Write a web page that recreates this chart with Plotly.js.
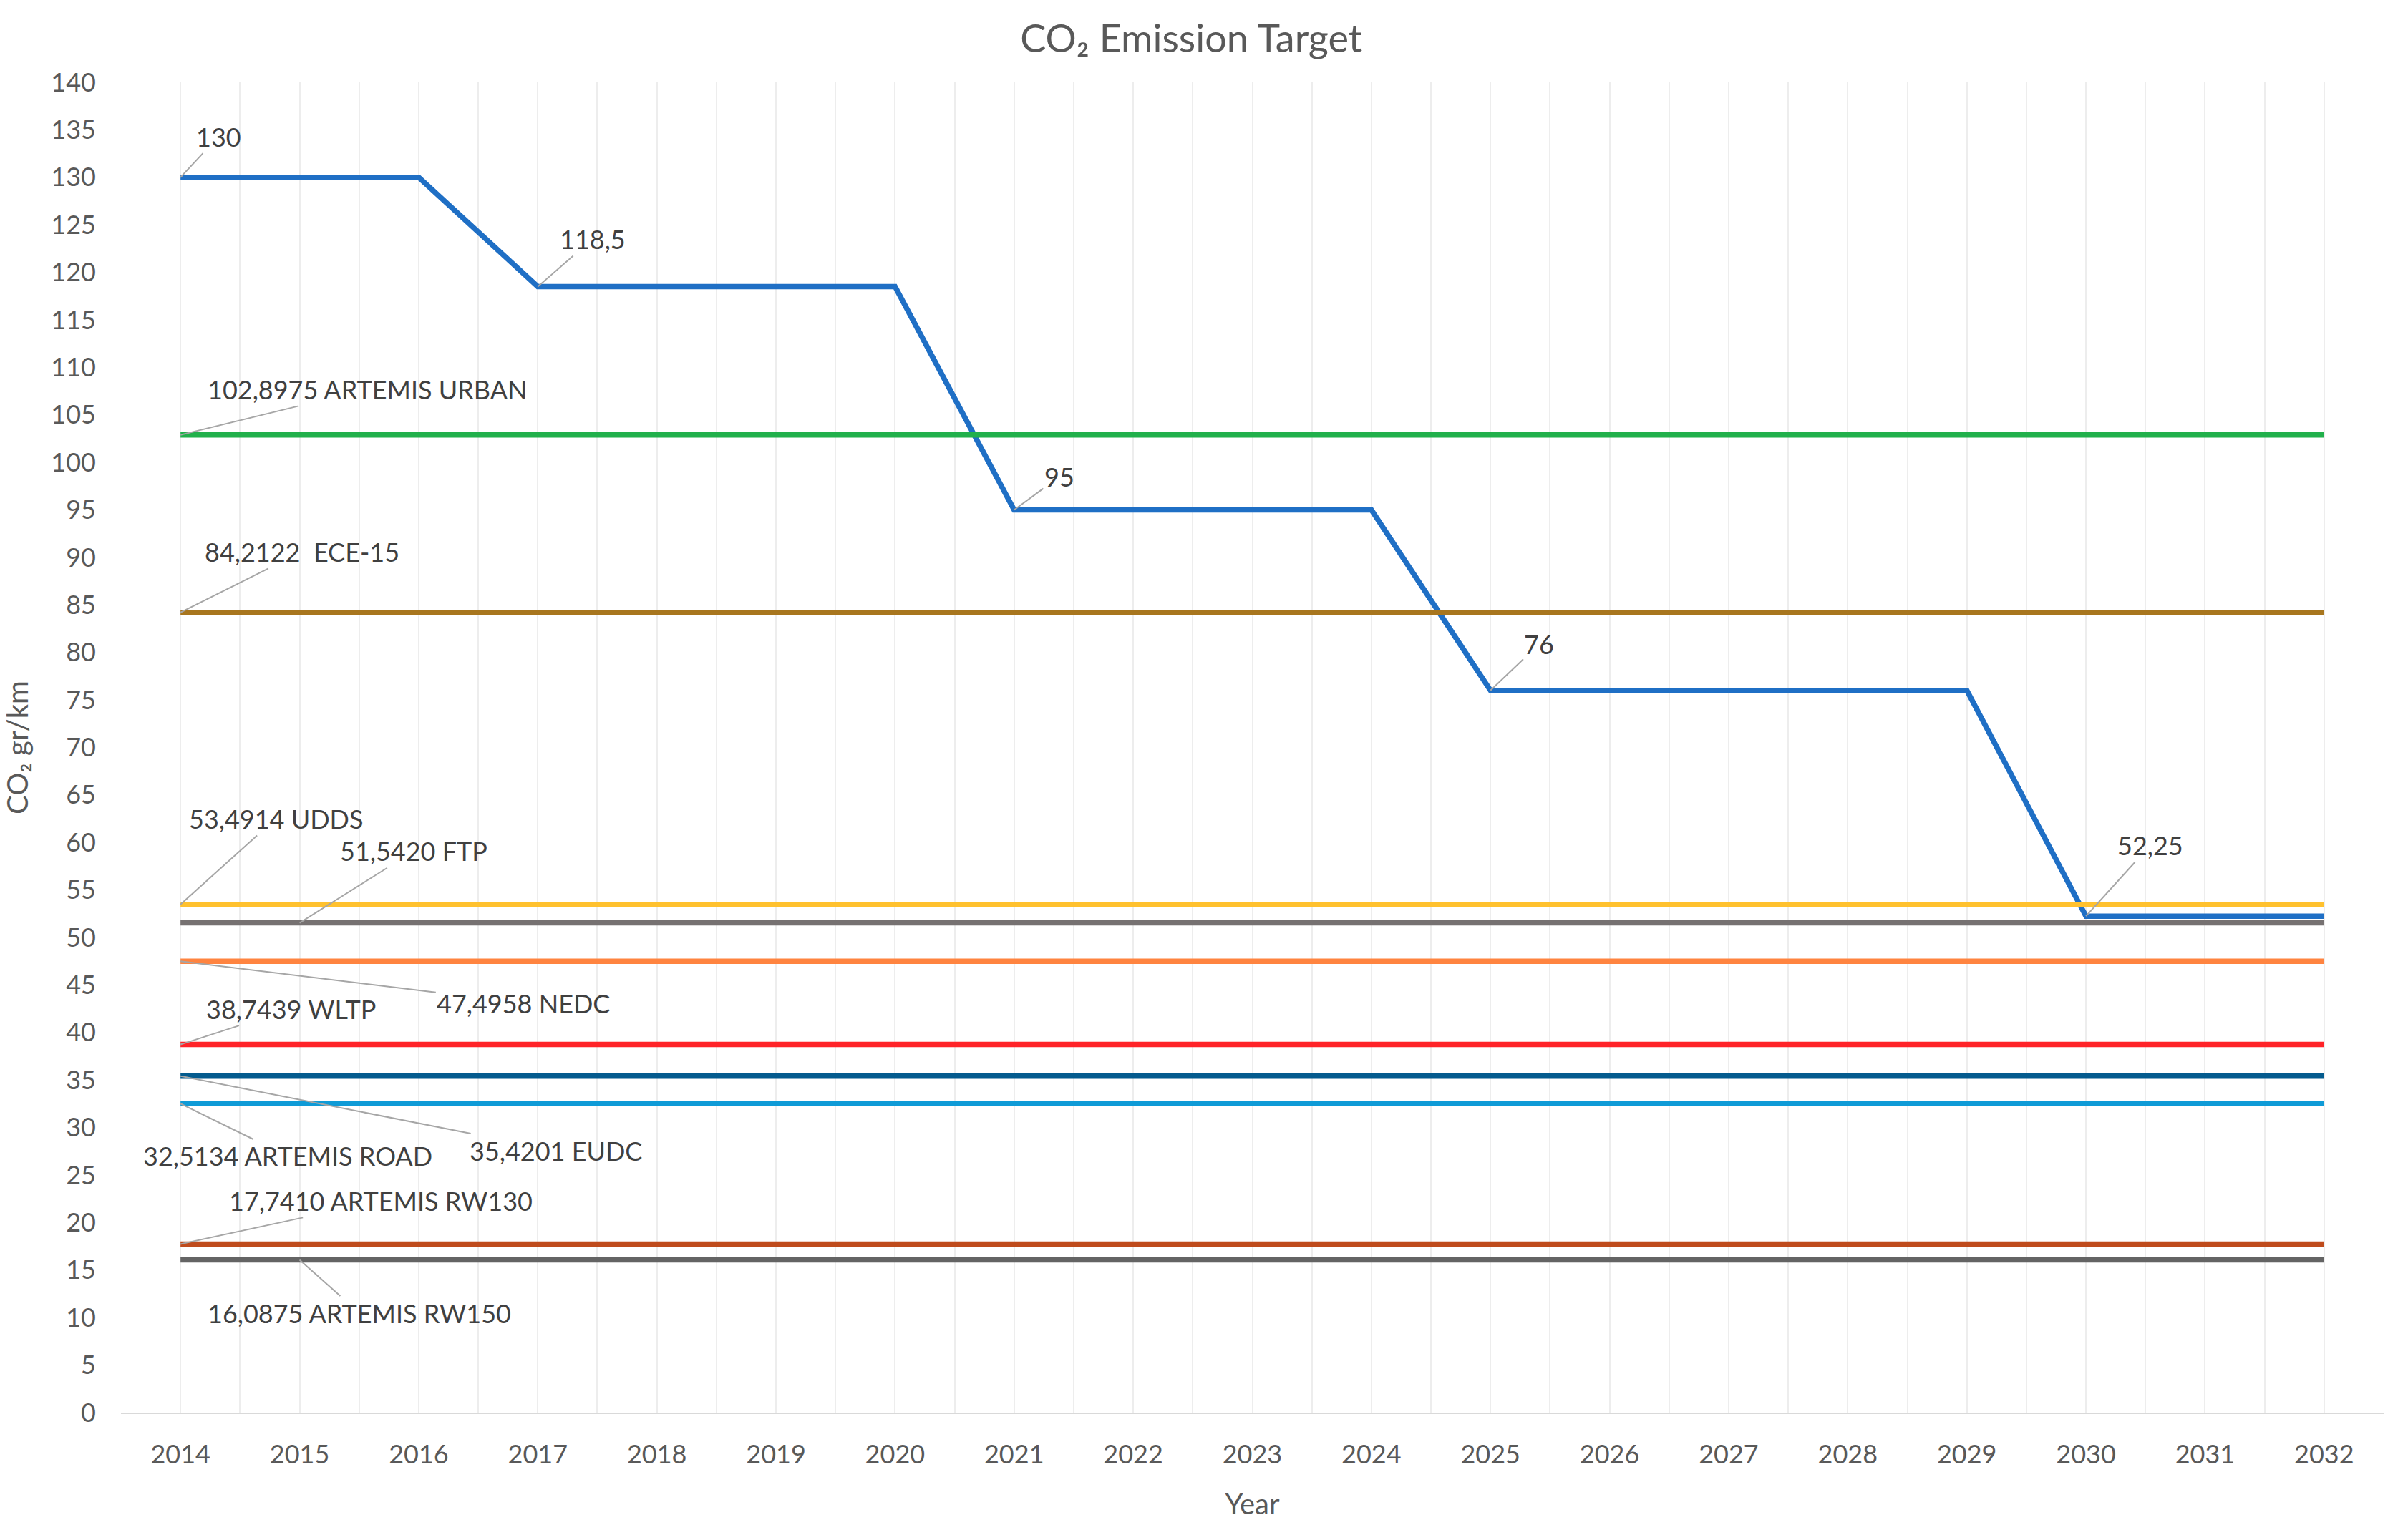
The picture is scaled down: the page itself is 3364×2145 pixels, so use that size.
<!DOCTYPE html>
<html>
<head>
<meta charset="utf-8">
<title>CO2 Emission Target</title>
<script src="https://cdn.plot.ly/plotly-3.0.1.min.js"></script>
<style>
  html, body { margin: 0; padding: 0; background: #fff; }
  #chart { width: 3364px; height: 2145px; }
</style>
</head>
<body>
<div id="chart"></div>
<script>
// Anos do eixo X
const years = [2014, 2015, 2016, 2017, 2018, 2019, 2020, 2021, 2022, 2023,
  2024, 2025, 2026, 2027, 2028, 2029, 2030, 2031, 2032];

// Meta de emissão (degraus)
const targetCO2 = [130, 130, 130, 118.5, 118.5, 118.5, 118.5, 95, 95, 95,
  95, 76, 76, 76, 76, 76, 52.25, 52.25, 52.25];

// Ciclos de condução (valores constantes)
const cycleNames = ['ARTEMIS URBAN', 'ECE-15', 'UDDS', 'FTP', 'NEDC', 'WLTP',
  'EUDC', 'ARTEMIS ROAD', 'ARTEMIS RW130', 'ARTEMIS RW150'];
const cycleValues = [102.8975, 84.2122, 53.4914, 51.5420, 47.4958, 38.7439,
  35.4201, 32.5134, 17.7410, 16.0875];

const targetColor = '#1F6FC5';
const cycleColors = ['#21B04B', '#A8761E', '#FFC12E', '#767171', '#FF8440',
  '#FF2328', '#045B8E', '#0F9BD7', '#BF4B1C', '#646464'];

// Rótulos: índice do ano onde o rótulo aponta + posição do texto (ano, valor)
const targetLabels = [
  { i: 0, tx: 2014.32, ty: 134.3 },
  { i: 3, tx: 2017.46, ty: 123.5 },
  { i: 7, tx: 2021.38, ty: 98.5 },
  { i: 11, tx: 2025.41, ty: 80.9 },
  { i: 16, tx: 2030.54, ty: 59.7 }
];
const cycleLabels = [
  { i: 0, tx: 2015.57, ty: 107.7, sep: ' ' },
  { i: 0, tx: 2015.02, ty: 90.6, sep: '\u00a0\u00a0' },
  { i: 0, tx: 2014.80, ty: 62.5, sep: ' ' },
  { i: 1, tx: 2015.96, ty: 59.1, sep: ' ' },
  { i: 0, tx: 2016.88, ty: 43.1, sep: ' ' },
  { i: 0, tx: 2014.93, ty: 42.5, sep: ' ' },
  { i: 0, tx: 2017.15, ty: 27.6, sep: ' ' },
  { i: 0, tx: 2014.90, ty: 27.0, sep: ' ' },
  { i: 0, tx: 2015.68, ty: 22.3, sep: ' ' },
  { i: 1, tx: 2015.50, ty: 10.5, sep: ' ' }
];

const fontFamily = 'Lato, "Open Sans", "Liberation Sans", sans-serif';
const fmtComma = (v) => String(v).replace('.', ',');

const traces = [];

traces.push({
  x: years,
  y: targetCO2,
  type: 'scatter',
  mode: 'lines',
  name: 'Target',
  line: { color: targetColor, width: 7.5 },
  hoverinfo: 'x+y'
});

cycleNames.forEach((name, k) => {
  traces.push({
    x: years,
    y: years.map(() => cycleValues[k]),
    type: 'scatter',
    mode: 'lines',
    name: name,
    line: { color: cycleColors[k], width: 7.5 },
    hoverinfo: 'name+y'
  });
});

const baseAnnotation = {
  xref: 'x', yref: 'y', axref: 'x', ayref: 'y',
  showarrow: true,
  arrowhead: 0,
  arrowwidth: 2,
  arrowcolor: '#A6A6A6',
  font: { family: fontFamily, size: 36, color: '#404040' }
};

const annotations = [];
targetLabels.forEach(l => {
  annotations.push(Object.assign({}, baseAnnotation, {
    x: years[l.i], y: targetCO2[l.i],
    ax: l.tx, ay: l.ty,
    text: fmtComma(targetCO2[l.i])
  }));
});
cycleLabels.forEach((l, k) => {
  annotations.push(Object.assign({}, baseAnnotation, {
    x: years[l.i], y: cycleValues[k],
    ax: l.tx, ay: l.ty,
    text: cycleValues[k].toFixed(4).replace('.', ',') + l.sep + cycleNames[k]
  }));
});

const layout = {
  width: 3364,
  height: 2145,
  paper_bgcolor: '#FFFFFF',
  plot_bgcolor: '#FFFFFF',
  showlegend: false,
  font: { family: fontFamily, size: 36, color: '#595959' },
  margin: { l: 169, r: 34, t: 115, b: 171 },
  title: {
    text: 'CO₂ Emission Target',
    font: { family: fontFamily, size: 54, color: '#595959' },
    x: 0.4947, xanchor: 'center',
    y: 0.975, yanchor: 'middle'
  },
  xaxis: {
    range: [2013.5, 2032.5],
    tickmode: 'array',
    tickvals: years,
    ticktext: years.map(String),
    ticks: '',
    showgrid: true,
    gridcolor: '#EDEDED',
    gridwidth: 2,
    minor: { tick0: 2013.5, dtick: 0.5, showgrid: true, gridcolor: '#EDEDED', gridwidth: 2 },
    showline: true,
    linecolor: '#D9D9D9',
    linewidth: 2,
    zeroline: false,
    ticklabelstandoff: 26,
    tickfont: { size: 36, color: '#595959' },
    title: { text: 'Year', font: { size: 40, color: '#595959' }, standoff: 36 }
  },
  yaxis: {
    range: [0, 140],
    dtick: 5,
    tick0: 0,
    ticks: '',
    showgrid: false,
    showline: false,
    zeroline: false,
    ticklabelstandoff: 34,
    tickfont: { size: 36, color: '#595959' },
    title: { text: 'CO₂ gr/km', font: { size: 40, color: '#595959' }, standoff: 20 }
  },
  annotations: annotations
};

Plotly.newPlot('chart', traces, layout, { displayModeBar: false, responsive: false });
</script>
</body>
</html>
